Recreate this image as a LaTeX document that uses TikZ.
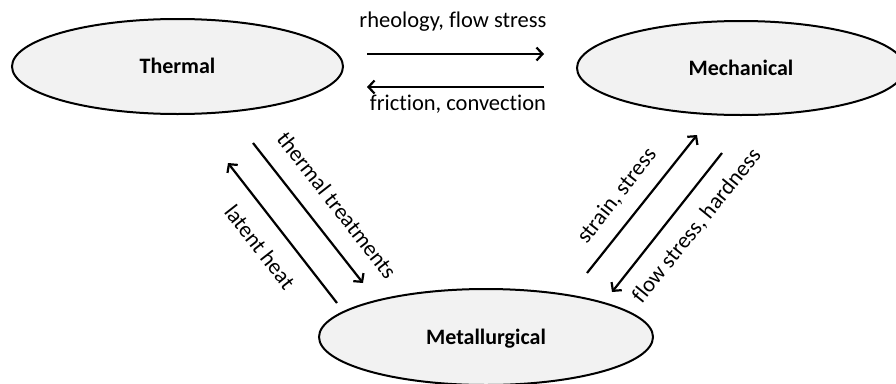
\documentclass[tikz,border=0pt]{standalone}
\usepackage{fontspec}
\setmainfont[Ligatures=NoCommon]{Carlito}
\usetikzlibrary{arrows.meta,shapes.geometric}
\definecolor{ellfill}{HTML}{F2F2F2}
\tikzset{
  fieldell/.style={ellipse, draw=black, line width=2pt, fill=ellfill, inner sep=0pt,
    font=\fontsize{22}{26}\selectfont\bfseries, text height=14pt, text depth=0pt},
  link/.style={line width=2.2pt, -{Straight Barb[length=6pt,width=13pt,line width=2.2pt]}},
  lab/.style={font=\fontsize{22.5}{27}\selectfont, inner sep=0pt}
}
\begin{document}
\begin{tikzpicture}[x=1pt,y=-1pt]
\useasboundingbox (0,0) rectangle (896,383);
\clip (0,0) rectangle (896,383);
\node[fieldell, minimum width=331pt, minimum height=95pt] (th) at (177.5,66.5) {Thermal};
\node[fieldell, minimum width=328pt, minimum height=94pt] (me) at (741,68) {Mechanical};
\node[fieldell, minimum width=334pt, minimum height=96pt] (mt) at (486,337) {Metallurgical};
% arrow ends
\coordinate (a1s) at (367,54);  \coordinate (a1e) at (544,54);
\coordinate (a2s) at (544,87);  \coordinate (a2e) at (367,87);
\coordinate (a3s) at (253,143); \coordinate (a3e) at (363,283);
\coordinate (a4s) at (337,303); \coordinate (a4e) at (228,163);
\coordinate (a5s) at (587,273); \coordinate (a5e) at (697,135);
\coordinate (a6s) at (722,153); \coordinate (a6e) at (612,292);
\draw[link] (a1s) -- (a1e);
\draw[link] (a2s) -- (a2e);
\draw[link] (a3s) -- (a3e);
\draw[link] (a4s) -- (a4e);
\draw[link] (a5s) -- (a5e);
\draw[link] (a6s) -- (a6e);
% labels
\node[lab, anchor=base] (l1) at (453,27) {rheology, flow stress};
\node[lab, anchor=base] (l2) at (458,110) {friction, convection};
\node[lab, rotate=-52] (l3) at (337,205) {thermal treatments};
\node[lab, rotate=-52] (l4) at (260,247) {latent heat};
\node[lab, rotate=52] (l5) at (617,196) {strain, stress};
\node[lab, rotate=51] (l6) at (697,226) {flow stress, hardness};
\end{tikzpicture}
\end{document}
